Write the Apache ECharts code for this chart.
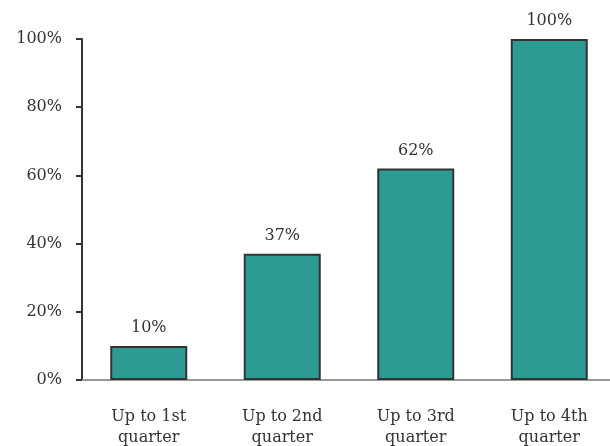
<!DOCTYPE html>
<html><head><meta charset="utf-8">
<script src="https://cdn.jsdelivr.net/npm/echarts@6/dist/echarts.min.js"></script>
<style>html,body{margin:0;padding:0;background:#fff;overflow:hidden}#c{width:610px;height:446px}</style>
</head><body><div id="c"></div>
<script>
const categories = ["Up to 1st\nquarter", "Up to 2nd\nquarter", "Up to 3rd\nquarter", "Up to 4th\nquarter"];
const values = [10, 37, 62, 100];
const yTicks = [0, 20, 40, 60, 80, 100];
const font = "'DejaVu Serif', serif";
const chart = echarts.init(document.getElementById('c'));
chart.setOption({
  animation: false,
  grid: { left: 82, top: 39, width: 534, height: 341, containLabel: false, outerBoundsMode: 'none' },
  xAxis: {
    type: 'category', data: categories,
    axisLine: { lineStyle: { color: '#999', width: 2 } },
    axisTick: { show: false },
    axisLabel: { color: '#333', fontFamily: font, fontSize: 16, lineHeight: 21, margin: 26 }
  },
  yAxis: {
    type: 'value', min: 0, max: 100, interval: 20,
    axisLine: { show: true, onZero: false, lineStyle: { color: '#333', width: 2 } },
    axisTick: { show: true, length: 6, lineStyle: { color: '#333', width: 2 } },
    splitLine: { show: false },
    axisLabel: { color: '#333', fontFamily: font, fontSize: 16, margin: 20, formatter: v => v + '%' }
  },
  series: [{
    type: 'bar', data: values, barWidth: 77,
    itemStyle: { color: '#2E9A94', borderColor: '#333', borderWidth: 2 },
    label: { show: true, position: 'top', distance: 10, color: '#333', fontFamily: font, fontSize: 16, formatter: p => p.value + '%' }
  }]
});
</script></body></html>
